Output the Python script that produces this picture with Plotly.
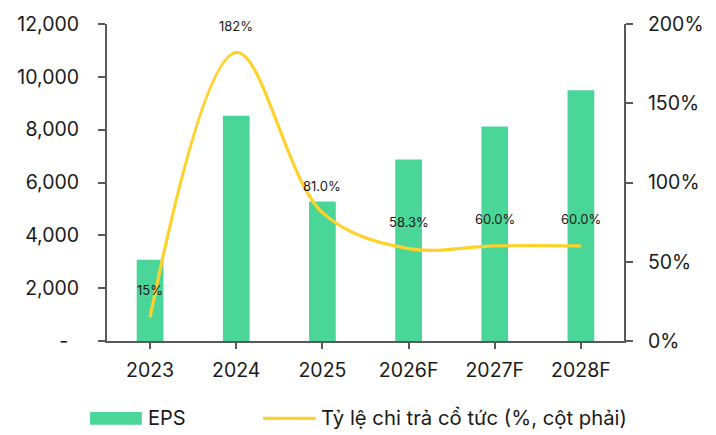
import plotly.graph_objects as go

# data
years = ["2023", "2024", "2025", "2026F", "2027F", "2028F"]
eps = [3080, 8530, 5280, 6870, 8120, 9490]
payout = [15, 182, 81.0, 58.3, 60.0, 60.0]
payout_labels = ["15%", "182%", "81.0%", "58.3%", "60.0%", "60.0%"]

eps_ticks = [0, 2000, 4000, 6000, 8000, 10000, 12000]
eps_ticktext = ["-\u00a0\u00a0", "2,000", "4,000", "6,000", "8,000", "10,000", "12,000"]
pct_ticks = [0, 50, 100, 150, 200]

GREEN = "#4ad699"
YELLOW = "#ffd12b"
AXIS = "#595959"
TEXT = "#1a1a1a"
FONT = "Inter"
FS = 19.5

W, H = 716, 435
M_L, M_R, M_T, M_B = 107, 89, 19, 94


def paper_x(px):
    return (px - M_L) / (W - M_L - M_R)


def paper_y(py):
    return (H - M_B - py) / (H - M_T - M_B)


fig = go.Figure()

fig.add_trace(go.Bar(
    x=years, y=eps, name="EPS",
    marker=dict(color=GREEN, line=dict(width=0)),
    width=0.31,
))

fig.add_trace(go.Scatter(
    x=years, y=payout, name="Tỷ lệ chi trả cổ tức (%, cột phải)",
    mode="lines",
    line=dict(color=YELLOW, width=3.2, shape="spline", smoothing=1),
    yaxis="y2",
))

# data labels above the payout line (x as category index, "2023" would be read as a number)
for i, (v, lab) in enumerate(zip(payout, payout_labels)):
    fig.add_annotation(
        x=i, y=v, xref="x", yref="y2", text=lab, showarrow=False,
        yshift=27, font=dict(family=FONT, size=13, color=TEXT),
    )

# custom legend (wide swatches like the original)
fig.add_shape(type="rect", xref="paper", yref="paper",
              x0=paper_x(90), x1=paper_x(142), y0=paper_y(426), y1=paper_y(413),
              fillcolor=GREEN, line=dict(width=0))
fig.add_annotation(xref="paper", yref="paper", x=paper_x(146), y=paper_y(419),
                   text="EPS", showarrow=False, xanchor="left", yanchor="middle",
                   font=dict(family=FONT, size=20, color=TEXT))
fig.add_shape(type="line", xref="paper", yref="paper",
              x0=paper_x(264), x1=paper_x(317), y0=paper_y(419.5), y1=paper_y(419.5),
              line=dict(color=YELLOW, width=3.2))
fig.add_annotation(xref="paper", yref="paper", x=paper_x(320), y=paper_y(419),
                   text="Tỷ lệ chi trả cổ tức (%, cột phải)", showarrow=False,
                   xanchor="left", yanchor="middle",
                   font=dict(family=FONT, size=20.3, color=TEXT))

fig.update_layout(
    width=W, height=H,
    margin=dict(l=M_L, r=M_R, t=M_T, b=M_B),
    paper_bgcolor="white", plot_bgcolor="white",
    showlegend=False,
    font=dict(family=FONT, size=FS, color=TEXT),
    xaxis=dict(
        type="category", categoryarray=years, range=[-0.5, 5.5],
        showline=True, linecolor=AXIS, linewidth=2,
        ticks="outside", ticklen=6, tickcolor=AXIS, tickwidth=1.5,
        showgrid=False, zeroline=False, ticklabelstandoff=5,
    ),
    yaxis=dict(
        range=[0, 12000], tickvals=eps_ticks, ticktext=eps_ticktext,
        showline=True, linecolor=AXIS, linewidth=2,
        ticks="outside", ticklen=7, tickcolor=AXIS, tickwidth=1.5,
        showgrid=False, zeroline=False, ticklabelstandoff=15,
    ),
    yaxis2=dict(
        overlaying="y", side="right", range=[0, 200], tickvals=pct_ticks,
        ticktext=[f"{t}%" for t in pct_ticks],
        showline=True, linecolor=AXIS, linewidth=2,
        ticks="outside", ticklen=7, tickcolor=AXIS, tickwidth=1.5,
        showgrid=False, zeroline=False, ticklabelstandoff=11,
    ),
)

# drop the browser's default body margin so the figure sits at the page origin
fig.write_html(
    "out.html",
    config={"displayModeBar": False},
    post_script="document.body.style.margin='0';",
)
